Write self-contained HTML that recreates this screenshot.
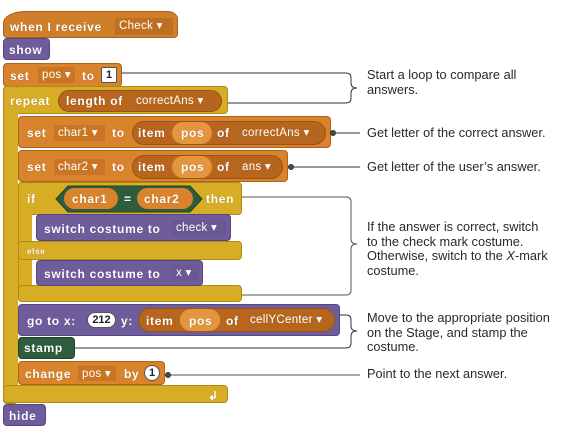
<!DOCTYPE html>
<html><head><style>
body{margin:0;width:566px;height:436px;background:#fff;position:relative;overflow:hidden;font-family:"Liberation Sans",sans-serif}
.b{position:absolute;box-sizing:border-box;border-radius:4px}
.t{position:absolute;font:bold 12px "Liberation Sans",sans-serif;letter-spacing:0.7px;color:#fff;white-space:nowrap;line-height:12px;text-shadow:0 0 1px rgba(0,0,0,.3)}
.ev{background:#cf7f2a;border:1px solid #a9601a}
.lk{background:#6f5d9b;border:1px solid #554580}
.vr{background:#d9832c;border:1px solid #b0631a}
.ct{background:#d8ad26;border:1px solid #b08a15}
.pn{background:#2f5c3c;border:1px solid #1f4429}
.rp{position:absolute;box-sizing:border-box;background:#b8651e;border:1px solid #9a5316;border-radius:12px}
.pl{position:absolute;box-sizing:border-box;background:#e3963e;border-radius:12px}
.dd{position:absolute;box-sizing:border-box;background:#b5661e;font:11.5px "Liberation Sans",sans-serif;letter-spacing:0.3px;color:#fff;line-height:16px;padding-left:4px;white-space:nowrap;overflow:hidden}
.wh{position:absolute;box-sizing:border-box;background:#fff;border:1px solid #555;border-radius:8px;font:bold 11px "Liberation Sans",sans-serif;color:#222;text-align:center;line-height:14px}
.c{position:absolute;font:12.8px "Liberation Sans",sans-serif;color:#2a2a22;line-height:14.5px;white-space:nowrap}
</style></head><body>
<!-- hat -->
<div class="b ev" style="left:3px;top:11px;width:175px;height:27px;border-radius:22px 10px 4px 4px/12px 8px 4px 4px"></div>
<div class="t" style="left:10px;top:21px">when I receive</div>
<div class="dd" style="left:115px;top:18px;width:58px;height:17px;background:#bf6e22">Check ▾</div>
<!-- show -->
<div class="b lk" style="left:3px;top:38px;width:47px;height:22px"></div>
<div class="t" style="left:9px;top:44px">show</div>
<!-- set pos -->
<div class="b vr" style="left:3px;top:63px;width:119px;height:24px"></div>
<div class="t" style="left:10px;top:70px">set</div>
<div class="dd" style="left:38px;top:67px;width:37px;height:16px;background:#c97524">pos ▾</div>
<div class="t" style="left:82px;top:70px">to</div>
<div class="wh" style="left:101px;top:67px;width:16px;height:16px;border-radius:2px">1</div>
<!-- repeat -->
<div class="b ct" style="left:3px;top:86px;width:225px;height:28px"></div>
<div class="b ct" style="left:3px;top:86px;width:15px;height:318px;border-right:none"></div>
<div class="b ct" style="left:3px;top:385px;width:225px;height:18px"></div>
<div class="t" style="left:10px;top:95px">repeat</div>
<div class="rp" style="left:58px;top:90px;width:164px;height:22px"></div>
<div class="t" style="left:66px;top:95px">length of</div>
<div class="dd" style="left:132px;top:93px;width:84px;height:16px">correctAns ▾</div>
<div class="t" style="left:208px;top:390px">↲</div>
<!-- set char1 -->
<div class="b vr" style="left:18px;top:116px;width:313px;height:32px"></div>
<div class="t" style="left:27px;top:127px">set</div>
<div class="dd" style="left:54px;top:125px;width:51px;height:16px;background:#c97524">char1 ▾</div>
<div class="t" style="left:112px;top:127px">to</div>
<div class="rp" style="left:132px;top:121px;width:194px;height:24px"></div>
<div class="t" style="left:138px;top:127px">item</div>
<div class="pl" style="left:172px;top:122px;width:40px;height:22px"></div>
<div class="t" style="left:181px;top:127px">pos</div>
<div class="t" style="left:217px;top:127px">of</div>
<div class="dd" style="left:238px;top:125px;width:82px;height:16px">correctAns ▾</div>
<!-- set char2 -->
<div class="b vr" style="left:18px;top:150px;width:270px;height:32px"></div>
<div class="t" style="left:27px;top:161px">set</div>
<div class="dd" style="left:54px;top:159px;width:51px;height:16px;background:#c97524">char2 ▾</div>
<div class="t" style="left:112px;top:161px">to</div>
<div class="rp" style="left:132px;top:155px;width:151px;height:24px"></div>
<div class="t" style="left:138px;top:161px">item</div>
<div class="pl" style="left:172px;top:156px;width:40px;height:22px"></div>
<div class="t" style="left:181px;top:161px">pos</div>
<div class="t" style="left:217px;top:161px">of</div>
<div class="dd" style="left:238px;top:159px;width:40px;height:16px">ans ▾</div>
<!-- if else -->
<div class="b ct" style="left:18px;top:182px;width:224px;height:33px"></div>
<div class="b ct" style="left:18px;top:182px;width:14px;height:120px;border-right:none"></div>
<div class="b ct" style="left:18px;top:241px;width:224px;height:19px"></div>
<div class="b ct" style="left:18px;top:285px;width:224px;height:17px"></div>
<div class="t" style="left:27px;top:193px">if</div>
<svg style="position:absolute;left:55px;top:185px" width="148" height="28"><polygon points="1,14 13,1 135,1 147,14 135,27 13,27" fill="#2f5c3c" stroke="#1f4429"/></svg>
<div class="pl" style="left:64px;top:188px;width:54px;height:21px;background:#d9832c"></div>
<div class="t" style="left:72px;top:193px">char1</div>
<div class="t" style="left:124px;top:193px">=</div>
<div class="pl" style="left:137px;top:188px;width:56px;height:21px;background:#d9832c"></div>
<div class="t" style="left:144px;top:193px">char2</div>
<div class="t" style="left:206px;top:193px">then</div>
<div class="t" style="left:27px;top:246px;font-size:8px">else</div>
<div class="b lk" style="left:36px;top:214px;width:195px;height:27px"></div>
<div class="t" style="left:44px;top:223px">switch costume to</div>
<div class="dd" style="left:172px;top:220px;width:54px;height:16px;background:#6a5894">check ▾</div>
<div class="b lk" style="left:36px;top:260px;width:167px;height:26px"></div>
<div class="t" style="left:44px;top:268px">switch costume to</div>
<div class="dd" style="left:172px;top:265px;width:27px;height:16px;background:#6a5894">x ▾</div>
<!-- go to -->
<div class="b lk" style="left:18px;top:304px;width:322px;height:32px"></div>
<div class="t" style="left:27px;top:315px">go to x:</div>
<div class="wh" style="left:87px;top:312px;width:29px;height:16px">212</div>
<div class="t" style="left:121px;top:315px">y:</div>
<div class="rp" style="left:138px;top:308px;width:197px;height:24px"></div>
<div class="t" style="left:146px;top:315px">item</div>
<div class="pl" style="left:180px;top:309px;width:40px;height:22px"></div>
<div class="t" style="left:189px;top:315px">pos</div>
<div class="t" style="left:226px;top:315px">of</div>
<div class="dd" style="left:246px;top:312px;width:84px;height:16px">cellYCenter ▾</div>
<!-- stamp -->
<div class="b pn" style="left:18px;top:337px;width:57px;height:22px"></div>
<div class="t" style="left:24px;top:342px">stamp</div>
<!-- change -->
<div class="b vr" style="left:18px;top:361px;width:147px;height:24px"></div>
<div class="t" style="left:25px;top:368px">change</div>
<div class="dd" style="left:78px;top:366px;width:38px;height:15px;background:#c97524">pos ▾</div>
<div class="t" style="left:124px;top:368px">by</div>
<div class="wh" style="left:144px;top:365px;width:16px;height:16px">1</div>
<!-- hide -->
<div class="b lk" style="left:3px;top:404px;width:43px;height:22px"></div>
<div class="t" style="left:9px;top:410px">hide</div>

<svg style="position:absolute;left:0;top:0" width="566" height="436" fill="none" stroke="#333" stroke-width="1">
<path d="M122 73H346q5 0 5 5v5q0 5 6 5q-6 0-6 5v5q0 5-5 5H228"/>
<line x1="331" y1="133" x2="360" y2="133"/><circle cx="333" cy="133" r="2.5" fill="#2f5c3c"/>
<line x1="288" y1="167" x2="360" y2="167"/><circle cx="291" cy="167" r="2.5" fill="#2f5c3c"/>
<path d="M242 197H346q5 0 5 5v37q0 5 6 5q-6 0-6 5v41q0 5-5 5H242" stroke="#555"/>
<path d="M340 315H346q5 0 5 5v6q0 5 6 5q-6 0-6 5v7q0 5-5 5H75"/>
<line x1="165" y1="375" x2="360" y2="375" stroke="#555"/><circle cx="168" cy="375" r="2.5" fill="#2f5c3c"/>
</svg>
<div class="c" style="left:367px;top:68px">Start a loop to compare all<br>answers.</div>
<div class="c" style="left:367px;top:126px">Get letter of the correct answer.</div>
<div class="c" style="left:367px;top:160px">Get letter of the user’s answer.</div>
<div class="c" style="left:367px;top:220px">If the answer is correct, switch<br>to the check mark costume.<br>Otherwise, switch to the <i>X</i>-mark<br>costume.</div>
<div class="c" style="left:367px;top:311px">Move to the appropriate position<br>on the Stage, and stamp the<br>costume.</div>
<div class="c" style="left:367px;top:367px">Point to the next answer.</div>
</body></html>
